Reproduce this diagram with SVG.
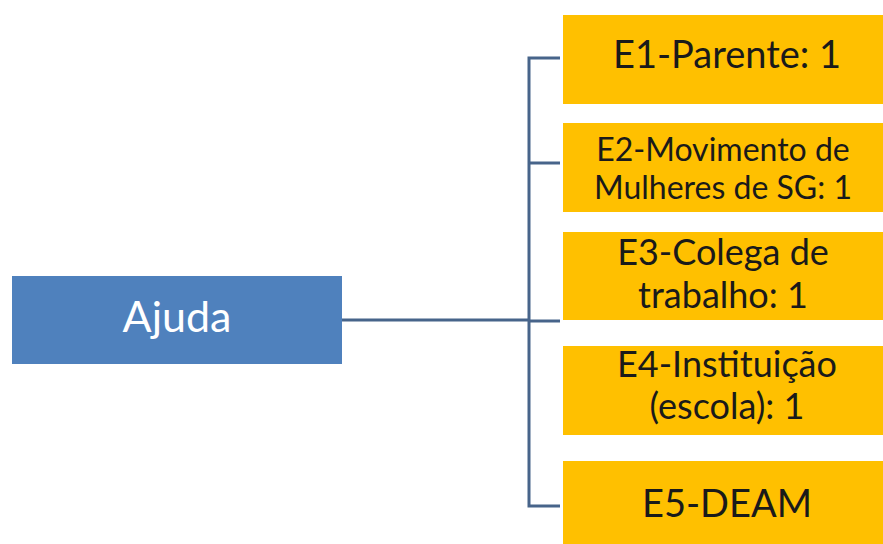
<svg xmlns="http://www.w3.org/2000/svg" width="883" height="544" viewBox="0 0 883 544">
<style>
.leaf{fill:#FFC000}
.lt{font-family:Lato,"Open Sans","Liberation Sans",sans-serif;fill:#1a1a1a;text-anchor:middle}
.conn{fill:none;stroke:#47648A;stroke-width:3}
</style>
<rect width="883" height="544" fill="#ffffff"/>
<g id="connectors">
<path class="conn" d="M342 320 H529"/>
<path class="conn" d="M560 58 H529 V506 H560"/>
<path class="conn" d="M529 163 H560"/>
<path class="conn" d="M529 321 H560"/>
</g>
<g id="ajuda">
<rect x="12" y="276" width="330" height="88" fill="#4F81BD"/>
<text x="177" y="332" font-family="Lato, Open Sans, Liberation Sans, sans-serif" font-size="43" fill="#ffffff" text-anchor="middle">Ajuda</text>
</g>
<g id="e1">
<rect class="leaf" x="563" y="15" width="330" height="89"/>
<text class="lt" x="727" y="68" font-size="38">E1-Parente: 1</text>
</g>
<g id="e2">
<rect class="leaf" x="563" y="123" width="330" height="89"/>
<text class="lt" x="723" y="161" font-size="32">E2-Movimento de</text>
<text class="lt" x="723" y="199" font-size="32">Mulheres de SG: 1</text>
</g>
<g id="e3">
<rect class="leaf" x="563" y="232" width="330" height="88"/>
<text class="lt" x="723" y="265" font-size="36">E3-Colega de</text>
<text class="lt" x="723" y="308" font-size="36">trabalho: 1</text>
</g>
<g id="e4">
<rect class="leaf" x="563" y="346" width="330" height="89"/>
<text class="lt" x="727" y="377" font-size="36">E4-Instituição</text>
<text class="lt" x="727" y="419" font-size="36">(escola): 1</text>
</g>
<g id="e5">
<rect class="leaf" x="563" y="461" width="330" height="90"/>
<text class="lt" x="727" y="517" font-size="38">E5-DEAM</text>
</g>
</svg>
